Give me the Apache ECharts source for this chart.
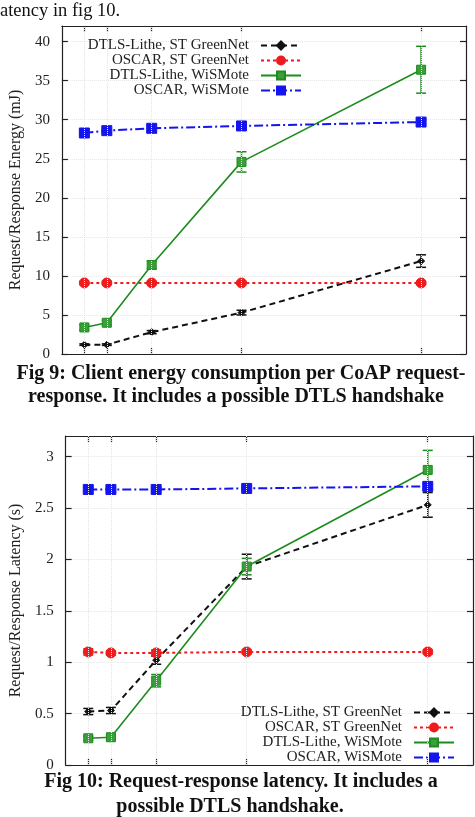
<!DOCTYPE html>
<html><head><meta charset="utf-8">
<script src="https://cdn.jsdelivr.net/npm/echarts@6/dist/echarts.min.js"></script>
<style>html,body{margin:0;padding:0;background:#fff}#c{width:475px;height:817px}</style>
</head><body><div id="c"></div>
<script>
// ---- data ----
const xValues = [1, 2, 4, 8, 16];
const seriesNames = ['DTLS-Lithe, ST GreenNet', 'OSCAR, ST GreenNet', 'DTLS-Lithe, WiSMote', 'OSCAR, WiSMote'];

// Fig 9: request/response energy (mJ)
const energyLitheGreenNet = [1.2, 1.2, 2.8, 5.3, 11.9];
const energyOscarGreenNet = [9.1, 9.1, 9.1, 9.1, 9.1];
const energyLitheWiSMote  = [3.4, 4.0, 11.4, 24.6, 36.4];
const energyOscarWiSMote  = [28.3, 28.6, 28.9, 29.2, 29.7];
const energyErrLitheGreenNet = [0.1, 0.1, 0.2, 0.3, 0.8];
const energyErrOscarGreenNet = [0.2, 0.2, 0.2, 0.2, 0.2];
const energyErrLitheWiSMote  = [0.3, 0.3, 0.5, 1.3, 3.0];
const energyErrOscarWiSMote  = [0.3, 0.3, 0.4, 0.2, 0.3];
const energyTicks = [0, 5, 10, 15, 20, 25, 30, 35, 40];

// Fig 10: request/response latency (s)
const latencyLitheGreenNet = [0.52, 0.53, 1.02, 1.93, 2.53];
const latencyOscarGreenNet = [1.10, 1.09, 1.09, 1.10, 1.10];
const latencyLitheWiSMote  = [0.26, 0.27, 0.82, 1.93, 2.87];
const latencyOscarWiSMote  = [2.68, 2.68, 2.68, 2.69, 2.71];
const latencyErrLitheGreenNet = [0.03, 0.03, 0.04, 0.12, 0.12];
const latencyErrOscarGreenNet = [0.03, 0.02, 0.03, 0.02, 0.02];
const latencyErrLitheWiSMote  = [0.02, 0.02, 0.06, 0.08, 0.19];
const latencyErrOscarWiSMote  = [0.02, 0.02, 0.02, 0.02, 0.02];
const latencyTicks = [0, 0.5, 1, 1.5, 2, 2.5, 3];

// ---- styles ----
const FONT = '"Liberation Serif", "DejaVu Serif", serif';
const colors = ['#111111', '#ee1c1c', '#1c8c1c', '#1414ee'];
const dashes = [[6, 4], [3, 3], 'solid', [9, 3, 2, 3]];
const symbols = ['diamond', 'circle', 'rect', 'rect'];
const symbolSizes = [7, 10, 9, 10];
const fills = ['#111111', '#ee1c1c', '#3a9e3a', '#1414ee'];

const chart = echarts.init(document.getElementById('c'), null, {renderer: 'canvas'});

function lineSeries(idx, vals, gi) {
  return {
    name: seriesNames[idx], type: 'line', xAxisIndex: gi * 2, yAxisIndex: gi * 2,
    data: xValues.map((x, i) => [x, vals[i]]),
    symbol: symbols[idx], symbolSize: symbolSizes[idx],
    lineStyle: {color: colors[idx], width: idx === 2 ? 1.6 : 2, type: dashes[idx]},
    itemStyle: {color: fills[idx], borderColor: colors[idx], borderWidth: 1},
    z: 3, animation: false
  };
}
function errSeries(idx, vals, errs, gi) {
  const color = colors[idx];
  return {
    type: 'custom', xAxisIndex: gi * 2, yAxisIndex: gi * 2, silent: true, z: 2, animation: false,
    data: xValues.map((x, i) => [x, vals[i] - errs[i], vals[i] + errs[i]]),
    encode: {x: 0, y: [1, 2]},
    renderItem(params, api) {
      const lo = api.coord([api.value(0), api.value(1)]);
      const hi = api.coord([api.value(0), api.value(2)]);
      const w = 5;
      const st = {stroke: color, lineWidth: 1.5};
      return {type: 'group', children: [
        {type: 'line', shape: {x1: lo[0], y1: lo[1], x2: hi[0], y2: hi[1]}, style: st},
        {type: 'line', shape: {x1: lo[0] - w, y1: lo[1], x2: lo[0] + w, y2: lo[1]}, style: st},
        {type: 'line', shape: {x1: hi[0] - w, y1: hi[1], x2: hi[0] + w, y2: hi[1]}, style: st}
      ]};
    }
  };
}
function vGrid(gi) {
  return {
    type: 'line', xAxisIndex: gi * 2, yAxisIndex: gi * 2, data: [], silent: true, z: 0,
    markLine: {silent: true, symbol: 'none', label: {show: false}, animation: false,
      lineStyle: {color: '#e4e4e4', type: 'dotted', width: 1},
      data: xValues.map(x => ({xAxis: x}))}
  };
}
const axisLineStyle = {color: '#222', width: 1.2};
function xAxes(gi) {
  return ['bottom', 'top'].map(pos => ({
    type: 'value', gridIndex: gi, min: 0, max: 18, position: pos,
    axisLine: {onZero: false, lineStyle: axisLineStyle},
    axisTick: {customValues: xValues, inside: true, length: 6, lineStyle: axisLineStyle},
    axisLabel: {show: false}, splitLine: {show: false}
  }));
}
function yAxes(gi, max, interval, ticks, name) {
  return [
    {type: 'value', gridIndex: gi, min: 0, max: max, interval: interval, position: 'left',
      name: name, nameLocation: 'middle', nameGap: 33, nameRotate: 90,
      nameTextStyle: {fontFamily: FONT, fontSize: 16, color: '#222'},
      axisLine: {onZero: false, lineStyle: axisLineStyle},
      axisTick: {customValues: ticks, inside: true, length: 6, lineStyle: axisLineStyle},
      axisLabel: {customValues: ticks, fontFamily: FONT, fontSize: 15, color: '#222', margin: 12},
      splitLine: {show: true, lineStyle: {color: '#e6e6e6', type: 'dotted'}}},
    {type: 'value', gridIndex: gi, min: 0, max: max, interval: interval, position: 'right',
      axisLine: {onZero: false, lineStyle: axisLineStyle},
      axisTick: {customValues: ticks, inside: true, length: 6, lineStyle: axisLineStyle},
      axisLabel: {show: false}, splitLine: {show: false}}
  ];
}
const legendText = {fontFamily: FONT, fontSize: 15, color: '#222', lineHeight: 13.4, padding: [0, 7, 0, 0]};
const CAP = 'bold 20px "Liberation Serif"';

const option = {
  backgroundColor: '#fff',
  animation: false,
  grid: [
    {left: 61, right: 9, top: 26, bottom: 463},
    {left: 63, right: 2, top: 436, bottom: 52}
  ],
  xAxis: [...xAxes(0), ...xAxes(1)],
  yAxis: [
    ...yAxes(0, 42, 5, energyTicks, 'Request/Response Energy (mJ)'),
    ...yAxes(1, 3.2, 0.5, latencyTicks, 'Request/Response Latency (s)')
  ],
  legend: [
    {orient: 'vertical', align: 'right', right: 168, top: 33, itemWidth: 40, itemHeight: 10, itemGap: 0,
      selectedMode: false, data: seriesNames, textStyle: legendText},
    {orient: 'vertical', align: 'right', right: 15, top: 700, itemWidth: 40, itemHeight: 10, itemGap: 0,
      selectedMode: false, data: seriesNames, textStyle: legendText}
  ],
  graphic: [
    {type: 'text', x: 0, y: 2, style: {text: 'atency in fig 10.', font: '18.5px "Liberation Serif"', fill: '#111', align: 'left', verticalAlign: 'top'}},
    {type: 'text', x: 241, y: 364, style: {text: 'Fig 9: Client energy consumption per CoAP request-', font: CAP, fill: '#111', align: 'center', verticalAlign: 'top'}},
    {type: 'text', x: 236, y: 387, style: {text: 'response. It includes a possible DTLS handshake', font: CAP, fill: '#111', align: 'center', verticalAlign: 'top'}},
    {type: 'text', x: 241, y: 772, style: {text: 'Fig 10: Request-response latency. It includes a', font: CAP, fill: '#111', align: 'center', verticalAlign: 'top'}},
    {type: 'text', x: 230, y: 797, style: {text: 'possible DTLS handshake.', font: CAP, fill: '#111', align: 'center', verticalAlign: 'top'}}
  ],
  series: [
    vGrid(0), vGrid(1),
    errSeries(0, energyLitheGreenNet, energyErrLitheGreenNet, 0),
    errSeries(1, energyOscarGreenNet, energyErrOscarGreenNet, 0),
    errSeries(2, energyLitheWiSMote, energyErrLitheWiSMote, 0),
    errSeries(3, energyOscarWiSMote, energyErrOscarWiSMote, 0),
    lineSeries(0, energyLitheGreenNet, 0),
    lineSeries(1, energyOscarGreenNet, 0),
    lineSeries(2, energyLitheWiSMote, 0),
    lineSeries(3, energyOscarWiSMote, 0),
    errSeries(0, latencyLitheGreenNet, latencyErrLitheGreenNet, 1),
    errSeries(1, latencyOscarGreenNet, latencyErrOscarGreenNet, 1),
    errSeries(2, latencyLitheWiSMote, latencyErrLitheWiSMote, 1),
    errSeries(3, latencyOscarWiSMote, latencyErrOscarWiSMote, 1),
    lineSeries(0, latencyLitheGreenNet, 1),
    lineSeries(1, latencyOscarGreenNet, 1),
    lineSeries(2, latencyLitheWiSMote, 1),
    lineSeries(3, latencyOscarWiSMote, 1)
  ]
};
chart.setOption(option);
</script>
</body></html>
